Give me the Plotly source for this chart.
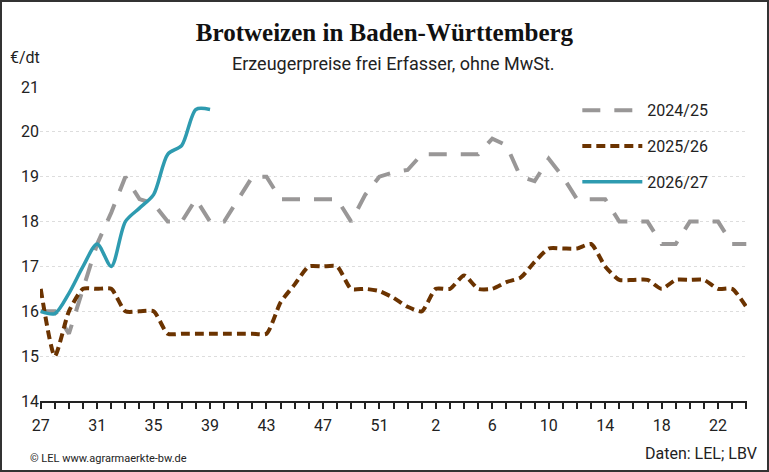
import plotly.graph_objects as go

weeks = list(range(27, 53)) + list(range(1, 26))
tick_labels = ['27', '31', '35', '39', '43', '47', '51', '2', '6', '10', '14', '18', '22']

price_2024_25 = [16.0, 16.0, 15.5, 16.5, 17.5, 18.2, 19.0, 18.5, 18.4, 18.0, 18.0, 18.5, 18.0, 18.0,
                 18.5, 19.0, 19.0, 18.5, 18.5, 18.5, 18.5, 18.5, 18.0, 18.6, 19.0, 19.1, 19.15, 19.5,
                 19.5, 19.5, 19.5, 19.5, 19.85, 19.7, 19.0, 18.9, 19.4, 19.0, 18.5, 18.5, 18.5, 18.0,
                 18.0, 18.0, 17.5, 17.5, 18.0, 18.0, 18.0, 17.5, 17.5]
price_2025_26 = [16.5, 15.0, 16.0, 16.5, 16.5, 16.5, 16.0, 16.0, 16.0, 15.5, 15.5, 15.5, 15.5, 15.5,
                 15.5, 15.5, 15.5, 16.2, 16.6, 17.0, 17.0, 17.0, 16.5, 16.5, 16.45, 16.3, 16.1, 16.0,
                 16.5, 16.5, 16.8, 16.5, 16.5, 16.65, 16.75, 17.1, 17.4, 17.4, 17.4, 17.5, 17.0, 16.7,
                 16.7, 16.7, 16.5, 16.7, 16.7, 16.7, 16.5, 16.5, 16.1]
price_2026_27 = [16.0, 15.95, 16.4, 17.0, 17.5, 17.0, 18.0, 18.3, 18.6, 19.5, 19.7, 20.5, 20.5]

font = 'Roboto, sans-serif'
idx = list(range(len(weeks)))

fig = go.Figure()
fig.add_trace(go.Scatter(x=idx[:len(price_2024_25)], y=price_2024_25, name='2024/25', mode='lines',
                         legendgroup='a', line=dict(color='#999797', width=4, dash='18px,14px')))
fig.add_trace(go.Scatter(x=idx[:len(price_2025_26)], y=price_2025_26, name='2025/26', mode='lines',
                         legendgroup='b',
                         line=dict(color='#6b3300', width=4, dash='9px,5px', shape='spline', smoothing=0.6)))
fig.add_trace(go.Scatter(x=idx[:len(price_2026_27)], y=price_2026_27, name='2026/27', mode='lines',
                         legendgroup='c',
                         line=dict(color='#2e9bb0', width=3.5, shape='spline', smoothing=0.8)))

W, H = 769, 472
L, R, T, B = 40, 22, 87, 71
pw, ph = W - L - R, H - T - B

fig.update_layout(
    width=W, height=H, margin=dict(l=L, r=R, t=T, b=B),
    plot_bgcolor='white', paper_bgcolor='white',
    font=dict(family=font, size=15, color='#222'),
    showlegend=True,
    legend=dict(x=0.76, y=0.98, xanchor='left', yanchor='top', font=dict(size=16),
                bgcolor='rgba(0,0,0,0)', tracegroupgap=12, itemwidth=60),
    title=dict(text='<b>Brotweizen in Baden-Württemberg</b>', x=0.5, xanchor='center',
               y=1 - 32 / H, yanchor='middle',
               font=dict(family='Liberation Serif, DejaVu Serif, serif', size=25, color='#111')),
    xaxis=dict(range=[-0.05, len(weeks) - 0.95], tickvals=idx[::4], ticktext=tick_labels,
               showgrid=False, zeroline=False, showline=True, linecolor='#222', linewidth=2,
               ticks='outside', ticklen=6, tickcolor='#222', tickwidth=1.5, tickfont=dict(size=16),
               ticklabelstandoff=3,
               minor=dict(tickvals=idx, ticks='outside', ticklen=6, tickcolor='#222', tickwidth=1.5)),
    yaxis=dict(range=[14, 21], dtick=1, showgrid=True, gridcolor='#dddddd', griddash='dot',
               zeroline=False, showline=False, ticks='', tickfont=dict(size=16)),
    annotations=[
        dict(text='Erzeugerpreise frei Erfasser, ohne MwSt.', xref='paper', yref='paper',
             x=0.5, y=1 + 24 / ph, xanchor='center', yanchor='middle', showarrow=False,
             font=dict(size=18, color='#222')),
        dict(text='€/dt', xref='paper', yref='paper', x=-32 / pw, y=1 + 29 / ph,
             xanchor='left', yanchor='middle', showarrow=False, font=dict(size=16)),
        dict(text='© LEL www.agrarmaerkte-bw.de', xref='paper', yref='paper', x=-12 / pw,
             y=-57 / ph, xanchor='left', yanchor='middle', showarrow=False, font=dict(size=11)),
        dict(text='Daten: LEL; LBV', xref='paper', yref='paper', x=1 + 12 / pw, y=-52 / ph,
             xanchor='right', yanchor='middle', showarrow=False, font=dict(size=16)),
    ],
    shapes=[dict(type='rect', xref='paper', yref='paper', x0=-(L - 1) / pw, x1=1 + (R - 1) / pw,
                 y0=-(B - 1) / ph, y1=1 + (T - 1) / ph, line=dict(color='#333', width=2))],
)

fig.write_html('out.html', config={'displayModeBar': False},
               post_script="document.body.style.margin='0';")
